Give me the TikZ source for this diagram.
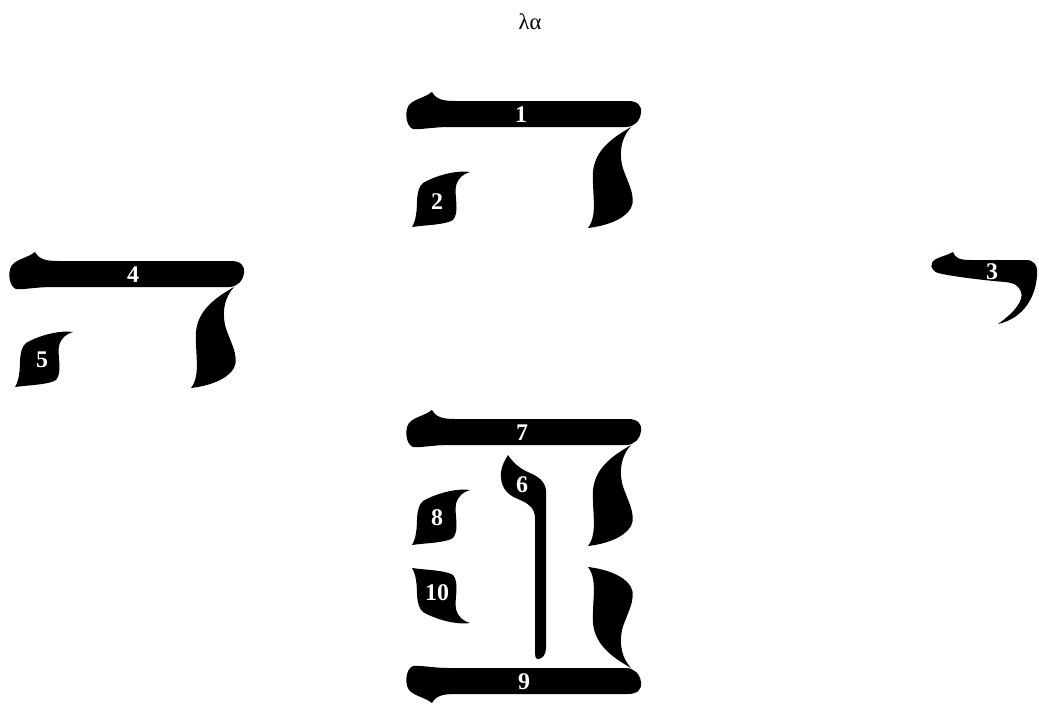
\documentclass[tikz,border=0pt]{standalone}
\usepackage{fontspec}
\setmainfont{Liberation Serif}
\usepackage{tikz}
\definecolor{ink}{HTML}{000000}

\begin{document}
\begin{tikzpicture}[x=0.025cm,y=-0.025cm,
  num/.style={text=white,font=\bfseries\fontsize{17}{17}\selectfont,inner sep=0pt},
  ttl/.style={font=\fontsize{16}{16}\selectfont,inner sep=0pt},
  hebar/.pic={
    \fill[ink] (432,92) .. controls (436,99) and (442,101) .. (455,101)
      -- (628,101) .. controls (638,101) and (642,106) .. (641,113)
      .. controls (640,121) and (634,127) .. (626,127) -- (450,127)
      .. controls (432,127) and (420,130) .. (413,129)
      .. controls (405,126) and (404,108) .. (411,103)
      .. controls (418,98) and (426,97) .. (432,92) -- cycle;},
  heleg/.pic={
    \fill[ink] (631,127) .. controls (612,138) and (595,150) .. (593,172)
      .. controls (592,195) and (598,215) .. (588,228)
      .. controls (605,226) and (624,220) .. (631,208)
      .. controls (637,196) and (626,180) .. (622,165)
      .. controls (619,150) and (622,137) .. (631,127) -- cycle;},
  heblob/.pic={
    \fill[ink] (470,172) .. controls (455,170) and (435,176) .. (423,183)
      .. controls (415,190) and (418,205) .. (416,215)
      .. controls (415,222) and (413,225) .. (412,227)
      .. controls (425,225) and (445,225) .. (453,220)
      .. controls (460,212) and (454,195) .. (456,186)
      .. controls (458,178) and (463,174) .. (470,172) -- cycle;}
]
  \useasboundingbox (0,0) rectangle (1039,704);
  \node[ttl] (title) at (530,22) {λα};

  % first he
  \pic at (0,0) {hebar};
  \pic at (0,0) {heleg};
  \pic at (0,0) {heblob};
  \node[num] (n1) at (521,115) {1};
  \node[num] (n2) at (437,202) {2};

  % second he, on the left
  \pic at (-397,160) {hebar};
  \pic at (-397,160) {heleg};
  \pic at (-397,160) {heblob};
  \node[num] (n4) at (133,275) {4};
  \node[num] (n5) at (42,360) {5};

  % stroke 3, on the right
  \fill[ink] (953,252) .. controls (955,258) and (960,260) .. (970,260)
    -- (1026,260) .. controls (1034,260) and (1038,265) .. (1037,275)
    .. controls (1036,295) and (1025,318) .. (998,324)
    .. controls (1015,312) and (1024,300) .. (1021,292)
    .. controls (1019,286) and (1015,283) .. (1005,282)
    .. controls (980,280) and (950,276) .. (938,273)
    .. controls (930,270) and (929,263) .. (936,259)
    .. controls (942,256) and (948,255) .. (953,252) -- cycle;
  \node[num] (n3) at (992,272) {3};

  % the full letter below
  \pic at (0,318) {hebar};
  \pic at (0,318) {heleg};
  \pic at (0,318) {heblob};
  \pic[yscale=-1] at (0,795) {hebar};
  \pic[yscale=-1] at (0,795) {heleg};
  \pic[yscale=-1] at (0,795) {heblob};
  \fill[ink] (508,455) .. controls (513,462) and (518,468) .. (530,473)
    .. controls (542,478) and (547,485) .. (546,495) -- (546,648)
    .. controls (546,655) and (542,659) .. (538,659)
    .. controls (535,659) and (535,655) .. (535,650) -- (535,518)
    .. controls (535,508) and (528,503) .. (518,499)
    .. controls (505,494) and (500,485) .. (501,472)
    .. controls (502,465) and (505,460) .. (508,455) -- cycle;
  \node[num] (n6) at (522,485) {6};
  \node[num] (n7) at (522,433) {7};
  \node[num] (n8) at (437,518) {8};
  \node[num] (n9) at (524,682) {9};
  \node[num] (n10) at (437,593) {10};
\end{tikzpicture}
\end{document}
